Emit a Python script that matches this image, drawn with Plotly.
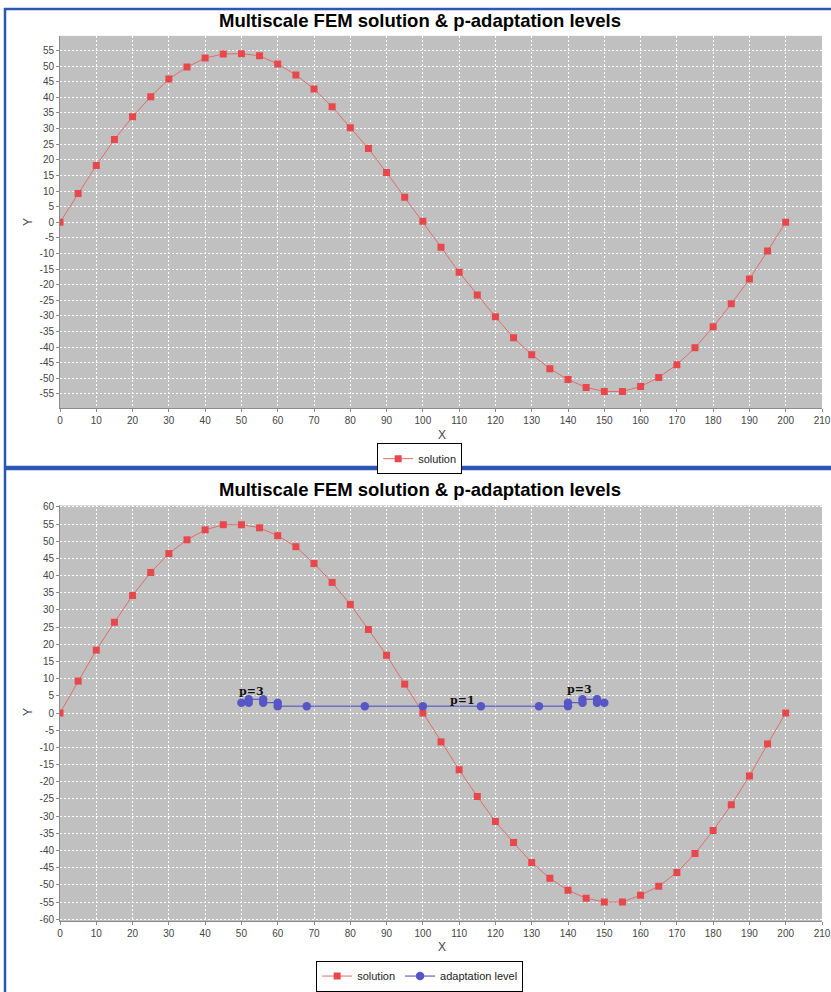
import plotly.graph_objects as go

# ---------------- data ----------------
title_text = "Multiscale FEM solution & p-adaptation levels"

x_nodes = [0, 5, 10, 15, 20, 25, 30, 35, 40, 45, 50, 55, 60, 65, 70, 75, 80, 85, 90, 95,
           100, 105, 110, 115, 120, 125, 130, 135, 140, 145, 150, 155, 160, 165, 170, 175,
           180, 185, 190, 195, 200]

solution_top = [0, 9.2, 18.2, 26.5, 33.8, 40.2, 45.9, 49.7, 52.6, 53.9, 54.0, 53.3, 50.7,
                47.2, 42.7, 37.0, 30.3, 23.6, 15.9, 8.0, 0.3, -8.0, -16.0, -23.3, -30.3,
                -37.0, -42.4, -46.9, -50.4, -52.9, -54.2, -54.2, -52.6, -49.7, -45.6,
                -40.2, -33.5, -26.1, -18.2, -9.2, 0]

solution_bottom = [0, 9.3, 18.3, 26.4, 34.2, 40.9, 46.4, 50.4, 53.3, 54.8, 54.8, 53.9, 51.6,
                   48.4, 43.5, 38.0, 31.6, 24.3, 16.8, 8.4, 0.0, -8.4, -16.5, -24.3, -31.6,
                   -37.7, -43.5, -48.1, -51.6, -53.9, -55.0, -55.0, -53.0, -50.4, -46.4,
                   -40.9, -34.2, -26.7, -18.3, -9.0, 0]

adapt_x = [50, 52, 52, 56, 56, 60, 60, 68, 84, 100, 116, 132, 140, 140, 144, 144, 148, 148, 150]
adapt_y = [3, 3, 4, 4, 3, 3, 2, 2, 2, 2, 2, 2, 2, 3, 3, 4, 4, 3, 3]

label_text = ["p=3", "p=1", "p=3"]
label_x = [52.9, 111, 143.3]
label_y = [6.4, 3.6, 6.7]

x_tick_vals = [0, 10, 20, 30, 40, 50, 60, 70, 80, 90, 100, 110, 120, 130, 140, 150, 160,
               170, 180, 190, 200, 210]
x_tick_text = [str(v) for v in x_tick_vals]

y_tick_vals_top = [-55, -50, -45, -40, -35, -30, -25, -20, -15, -10, -5, 0, 5, 10, 15, 20,
                   25, 30, 35, 40, 45, 50, 55]
y_tick_vals_bottom = [-60] + y_tick_vals_top + [60]
y_tick_text_top = [str(v) for v in y_tick_vals_top]
y_tick_text_bottom = [str(v) for v in y_tick_vals_bottom]

# ---------------- figure ----------------
W, H = 831, 992
RED = "#e8484c"
RED_LINE = "#e06c6c"
BLUE = "#5656c4"
BLUE_LINE = "#4646cc"
FRAME = "#2b57b5"


def px(xp):
    return xp / W


def py(yp):
    return 1 - yp / H


fig = go.Figure()

fig.add_trace(go.Scatter(
    x=x_nodes, y=solution_top, mode="lines+markers", name="solution",
    line=dict(color=RED_LINE, width=1),
    marker=dict(symbol="square", size=7, color=RED),
    xaxis="x", yaxis="y", legend="legend"))

fig.add_trace(go.Scatter(
    x=x_nodes, y=solution_bottom, mode="lines+markers", name="solution",
    line=dict(color=RED_LINE, width=1),
    marker=dict(symbol="square", size=7, color=RED),
    xaxis="x2", yaxis="y2", legend="legend2"))

fig.add_trace(go.Scatter(
    x=adapt_x, y=adapt_y, mode="lines+markers", name="adaptation level",
    line=dict(color=BLUE_LINE, width=1),
    marker=dict(symbol="circle", size=8.5, color=BLUE),
    xaxis="x2", yaxis="y2", legend="legend2"))

tick_font = dict(family="Liberation Sans, Arial, sans-serif", size=10, color="#444444")
common_x = dict(range=[0, 210], tickvals=x_tick_vals, ticktext=x_tick_text,
                showgrid=True, gridcolor="white", gridwidth=0.7, griddash="2px,2px",
                showline=True, linecolor="#8a8a8a", linewidth=1,
                ticks="outside", ticklen=3, tickcolor="#8a8a8a",
                tickfont=tick_font, zeroline=False, automargin=False,
                domain=[px(60), px(822)])
common_y = dict(showgrid=True, gridcolor="white", gridwidth=0.7, griddash="2px,2px",
                showline=True, linecolor="#8a8a8a", linewidth=1,
                ticks="outside", ticklen=3, tickcolor="#8a8a8a",
                tickfont=tick_font, zeroline=False, automargin=False)

fig.update_layout(
    width=W, height=H,
    margin=dict(l=0, r=0, t=0, b=0),
    template="none",
    paper_bgcolor="white",
    plot_bgcolor="#c0c0c0",
    font=dict(family="Liberation Sans, Arial, sans-serif", color="#333333"),
    xaxis=dict(common_x, anchor="y"),
    yaxis=dict(common_y, range=[-59.6, 59.7], tickvals=y_tick_vals_top,
               ticktext=y_tick_text_top, anchor="x", domain=[py(410), py(36)]),
    xaxis2=dict(common_x, anchor="y2"),
    yaxis2=dict(common_y, range=[-60.6, 60.4], tickvals=y_tick_vals_bottom,
                ticktext=y_tick_text_bottom, anchor="x2", domain=[py(925), py(507.5)]),
    legend=dict(orientation="h", x=0.505, xanchor="center", y=py(460.5), yanchor="middle",
                bordercolor="black", borderwidth=1, bgcolor="white",
                font=dict(size=11, color="#222222"), itemwidth=30),
    legend2=dict(orientation="h", x=0.505, xanchor="center", y=py(980), yanchor="middle",
                 bordercolor="black", borderwidth=1, bgcolor="white",
                 font=dict(size=11, color="#222222"), itemwidth=30),
    showlegend=True,
)

annotations = []
for yc in (21, 491):
    annotations.append(dict(text="<b>" + title_text + "</b>", x=0.506, y=py(yc),
                            xref="paper", yref="paper", showarrow=False,
                            xanchor="center", yanchor="middle",
                            font=dict(size=18.5, color="black",
                                      family="Liberation Sans, Arial, sans-serif")))
for yc in (437, 951):
    annotations.append(dict(text="X", x=px(442), y=py(yc), xref="paper", yref="paper",
                            showarrow=False, xanchor="center", yanchor="middle",
                            font=dict(size=12, color="#444444")))
for yc in (223, 715):
    annotations.append(dict(text="Y", x=px(28), y=py(yc), xref="paper", yref="paper",
                            showarrow=False, xanchor="center", yanchor="middle",
                            textangle=-90, font=dict(size=12, color="#444444")))
for t, lx, ly in zip(label_text, label_x, label_y):
    annotations.append(dict(text="<b>" + t + "</b>", x=lx, y=ly, xref="x2", yref="y2",
                            showarrow=False, xanchor="center", yanchor="middle",
                            font=dict(size=11, color="#111111",
                                      family="DejaVu Serif, Liberation Serif, serif")))
fig.update_layout(annotations=annotations)

shapes = [
    dict(type="rect", xref="paper", yref="paper", x0=px(5), x1=px(840), y0=py(9), y1=py(469),
         line=dict(color=FRAME, width=2.5), layer="above"),
    dict(type="rect", xref="paper", yref="paper", x0=px(5), x1=px(840), y0=py(471), y1=py(1000),
         line=dict(color=FRAME, width=2.5), layer="above"),
]
fig.update_layout(shapes=shapes)

fig.write_html("out.html", config={"displayModeBar": False},
               post_script="document.body.style.margin='0px';document.body.style.overflow='hidden';")
